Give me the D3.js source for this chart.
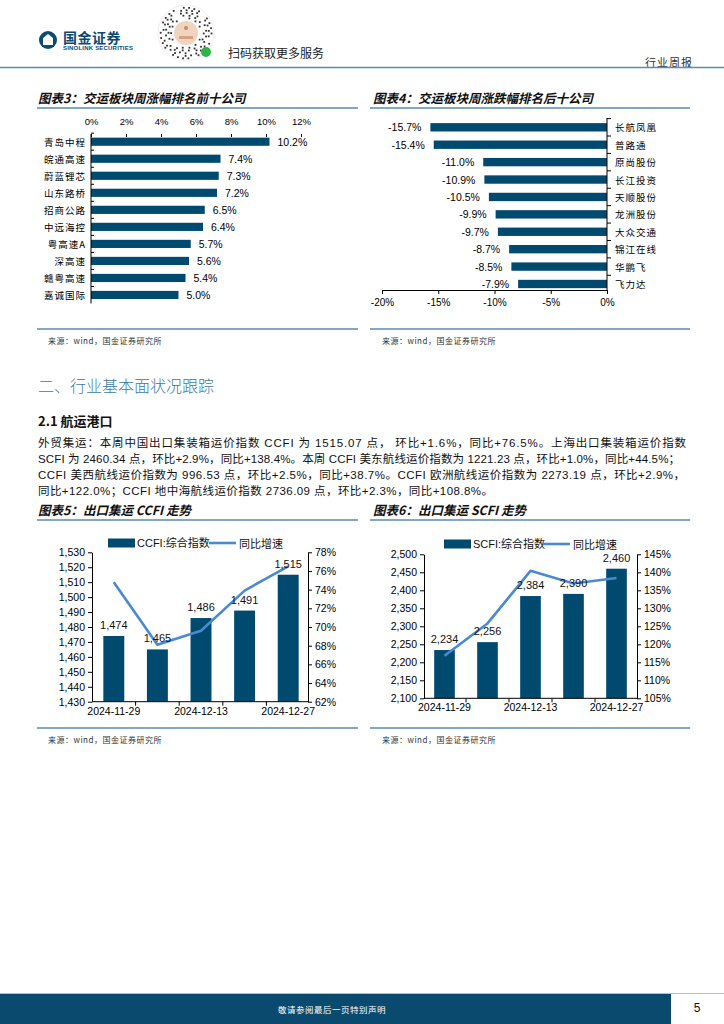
<!DOCTYPE html>
<html><head><meta charset="utf-8">
<script src="https://cdn.jsdelivr.net/npm/d3@7"></script>
<style>
html,body{margin:0;padding:0;background:#fff;}
svg{display:block;}
</style></head>
<body>
<svg id="page" width="724" height="1024"></svg>
<script>
// ---------------- DATA ----------------
const top10Names = ["青岛中程","皖通高速","蔚蓝锂芯","山东路桥","招商公路","中远海控","粤高速A","深高速","赣粤高速","嘉诚国际"];
const top10Values = [10.2,7.4,7.3,7.2,6.5,6.4,5.7,5.6,5.4,5.0];
const top10Ticks = [0,2,4,6,8,10,12];

const bottom10Names = ["长航凤凰","普路通","原尚股份","长江投资","天顺股份","龙洲股份","大众交通","锦江在线","华鹏飞","飞力达"];
const bottom10Values = [-15.7,-15.4,-11.0,-10.9,-10.5,-9.9,-9.7,-8.7,-8.5,-7.9];
const bottom10Ticks = [-20,-15,-10,-5,0];

const weeks = ["2024-11-29","2024-12-06","2024-12-13","2024-12-20","2024-12-27"];
const weekLabels = ["2024-11-29","2024-12-13","2024-12-27"];
const ccfiIndex = [1474,1465,1486,1491,1515];
const ccfiYoy = [74.8,68.1,69.6,73.9,76.5];
const ccfiLeftTicks = [1430,1440,1450,1460,1470,1480,1490,1500,1510,1520,1530];
const ccfiRightTicks = [62,64,66,68,70,72,74,76,78];

const scfiIndex = [2234,2256,2384,2390,2460];
const scfiYoy = [116.8,125.8,140.4,136.9,138.4];
const scfiLeftTicks = [2100,2150,2200,2250,2300,2350,2400,2450,2500];
const scfiRightTicks = [105,110,115,120,125,130,135,140,145];

const paraLines = [
  "外贸集运：本周中国出口集装箱运价指数 CCFI 为 1515.07 点， 环比+1.6%，同比+76.5%。上海出口集装箱运价指数",
  "SCFI 为 2460.34 点，环比+2.9%，同比+138.4%。本周 CCFI 美东航线运价指数为 1221.23 点，环比+1.0%，同比+44.5%；",
  "CCFI 美西航线运价指数为 996.53 点，环比+2.5%，同比+38.7%。CCFI 欧洲航线运价指数为 2273.19 点，环比+2.9%，",
  "同比+122.0%；CCFI 地中海航线运价指数 2736.09 点，环比+2.3%，同比+108.8%。"
];

// ---------------- STYLE ----------------
const NAVY = "#004a6f";
const LINEBLUE = "#4a8ad0";
const RULE = "#5a8bb0";
const FONT = "'Liberation Sans','Noto Sans CJK SC',sans-serif";
const CJK = "'Noto Sans CJK SC','Liberation Sans',sans-serif";

const svg = d3.select("#page");
svg.append("rect").attr("width",724).attr("height",1024).attr("fill","#fff");

function txt(g, x, y, s, opts={}) {
  const t = g.append("text").attr("x",x).attr("y",y).text(s)
    .attr("font-family", opts.family || FONT)
    .attr("font-size", opts.size || 10)
    .attr("fill", opts.fill || "#000")
    .attr("text-anchor", opts.anchor || "start")
    .attr("dominant-baseline", "central");
  if (opts.weight) t.attr("font-weight", opts.weight);
  if (opts.style) t.attr("font-style", opts.style);
  if (opts.ls) t.attr("letter-spacing", opts.ls);
  if (opts.len) t.attr("textLength", opts.len).attr("lengthAdjust","spacing");
  return t;
}
function hline(x1,x2,y,color,w){ svg.append("line").attr("x1",x1).attr("x2",x2).attr("y1",y).attr("y2",y).attr("stroke",color).attr("stroke-width",w); }

// ---------------- HEADER ----------------
const hdr = svg.append("g");
// logo
hdr.append("circle").attr("cx",48).attr("cy",40).attr("r",9).attr("fill","#0d4a73");
hdr.append("path").attr("d","M43,45 L43,38 L48,34 L53,38 L53,45 Z").attr("fill","#fff");
txt(hdr,63,37,"国金证券",{size:14,weight:"bold",fill:"#0d4a73",family:CJK,ls:0.5});
txt(hdr,63,48,"SINOLINK SECURITIES",{size:6,weight:"bold",fill:"#0d4a73",ls:0.2});
// QR-like badge (decorative)
const qr = hdr.append("g");
qr.append("circle").attr("cx",186).attr("cy",33).attr("r",28).attr("fill","#fff").attr("stroke","#ddd").attr("stroke-width",0.5);
for (let ring=0; ring<5; ring++){
  const r = 15 + ring*2.6;
  const n = 14 + ring*4;
  for (let k=0;k<n;k++){
    if ((k*7 + ring*3) % 5 === 0) continue;
    const a = (k/n)*2*Math.PI + ring*0.37;
    qr.append("rect").attr("x",186+r*Math.cos(a)-0.8).attr("y",33+r*Math.sin(a)-0.8)
      .attr("width",1.8).attr("height",1.8).attr("fill","#333");
  }
}
qr.append("circle").attr("cx",186).attr("cy",33).attr("r",12).attr("fill","#efd5bf");
qr.append("rect").attr("x",179).attr("y",36).attr("width",14).attr("height",3).attr("fill","#d8a27e");
qr.append("circle").attr("cx",186).attr("cy",28).attr("r",2).attr("fill","#c98a60");
qr.append("circle").attr("cx",206).attr("cy",52).attr("r",5).attr("fill","#2db34a");
txt(hdr,228,52,"扫码获取更多服务",{size:12,family:CJK,fill:"#222"});
txt(hdr,645,62,"行业周报",{size:11,family:CJK,fill:"#333",ls:1});
hline(0,724,67.5,RULE,1.6);

// ---------------- TITLES ----------------
function chartTitle(x, y, s, lx1, lx2){
  txt(svg,x,y,s,{size:12.5,weight:"bold",style:"italic",family:CJK,fill:"#111"});
  hline(lx1,lx2,y+11,RULE,1.3);
}
function source(x,y,lx1,lx2){
  hline(lx1,lx2,y-11,RULE,1.3);
  txt(svg,x,y,"来源：wind，国金证券研究所",{size:8,family:CJK,fill:"#333",ls:0.5});
}

// ---------------- CHART 3 ----------------
chartTitle(38,97,"图表3：交运板块周涨幅排名前十公司",37,358);
{
  const g = svg.append("g");
  const x = d3.scaleLinear().domain([0,12]).range([91,301]);
  const y = d3.scaleBand().domain(top10Names).range([133.2,303.5]).paddingInner(0.52).paddingOuter(0.26);
  const ax = g.append("g").attr("transform","translate(0,134)")
    .call(d3.axisTop(x).tickValues(top10Ticks).tickFormat(d=>d+"%").tickSizeInner(-3).tickSizeOuter(0).tickPadding(9));
  ax.select(".domain").remove();
  ax.selectAll("line").attr("stroke","#000");
  ax.selectAll("text").attr("font-family",FONT).attr("font-size",9.5).attr("fill","#000");
  g.selectAll(".bar").data(top10Values).join("rect")
    .attr("x",x(0)).attr("y",(d,i)=>y(top10Names[i]))
    .attr("width",d=>x(d)-x(0)).attr("height",y.bandwidth()).attr("fill",NAVY);
  g.append("line").attr("x1",91).attr("x2",91).attr("y1",134).attr("y2",303.5).attr("stroke","#000");
  const step = y.step();
  top10Names.forEach((n,i)=>{
    const yy = y(n) - y.paddingInner()*step/2;
    g.append("line").attr("x1",91).attr("x2",94).attr("y1",yy).attr("y2",yy).attr("stroke","#000");
  });
  g.selectAll(".lab").data(top10Names).join("text")
    .attr("x",86).attr("y",d=>y(d)+y.bandwidth()/2).text(d=>d)
    .attr("text-anchor","end").attr("dominant-baseline","central")
    .attr("font-family",CJK).attr("font-size",9.5).attr("letter-spacing",1);
  g.selectAll(".val").data(top10Values).join("text")
    .attr("x",d=>x(d)+8).attr("y",(d,i)=>y(top10Names[i])+y.bandwidth()/2).text(d=>d.toFixed(1)+"%")
    .attr("dominant-baseline","central").attr("font-family",FONT).attr("font-size",10.5);
}
source(48,340,37,358);

// ---------------- CHART 4 ----------------
chartTitle(373,97,"图表4：交运板块周涨跌幅排名后十公司",370,690);
{
  const g = svg.append("g");
  const x = d3.scaleLinear().domain([-20,0]).range([382,607]);
  const y = d3.scaleBand().domain(bottom10Names).range([118.6,292.7]).paddingInner(0.52).paddingOuter(0.26);
  g.selectAll(".bar").data(bottom10Values).join("rect")
    .attr("x",d=>x(d)).attr("y",(d,i)=>y(bottom10Names[i]))
    .attr("width",d=>x(0)-x(d)).attr("height",y.bandwidth()).attr("fill",NAVY);
  const ax = g.append("g").attr("transform","translate(0,290)")
    .call(d3.axisBottom(x).tickValues(bottom10Ticks).tickFormat(d=>d+"%").tickSizeInner(4).tickSizeOuter(0).tickPadding(5));
  ax.select(".domain").attr("stroke","#000");
  ax.selectAll("text").attr("font-family",FONT).attr("font-size",10).attr("fill","#000");
  g.append("line").attr("x1",607).attr("x2",607).attr("y1",118).attr("y2",290).attr("stroke","#000");
  const step = y.step();
  bottom10Names.forEach((n,i)=>{
    const yy = y(n) - y.paddingInner()*step/2;
    g.append("line").attr("x1",607).attr("x2",611).attr("y1",yy).attr("y2",yy).attr("stroke","#000");
  });
  g.selectAll(".lab").data(bottom10Names).join("text")
    .attr("x",615).attr("y",d=>y(d)+y.bandwidth()/2).text(d=>d)
    .attr("dominant-baseline","central")
    .attr("font-family",CJK).attr("font-size",9.5).attr("letter-spacing",1);
  g.selectAll(".val").data(bottom10Values).join("text")
    .attr("x",d=>x(d)-9).attr("y",(d,i)=>y(bottom10Names[i])+y.bandwidth()/2).text(d=>d.toFixed(1)+"%")
    .attr("text-anchor","end").attr("dominant-baseline","central").attr("font-family",FONT).attr("font-size",10.5);
}
source(382,340,370,690);

// ---------------- SECTION TEXT ----------------
txt(svg,38,385,"二、行业基本面状况跟踪",{size:16,family:CJK,fill:"#3d7aa6",weight:300});
txt(svg,38,420,"2.1 航运港口",{size:13,family:CJK,weight:"bold",fill:"#111"});
const paraLens = [648,642,647,455];
paraLines.forEach((s,i)=>{
  txt(svg,38,443+i*16,s,{size:11.5,family:FONT,fill:"#111",len:paraLens[i]});
});

// ---------------- COMBO CHART ----------------
function combo(cfg){
  const g = svg.append("g");
  const x = d3.scaleBand().domain(weeks).range([cfg.bx0,cfg.bx1]).paddingInner(0.52).paddingOuter(0.26);
  const yl = d3.scaleLinear().domain(cfg.lDom).range([cfg.yb,cfg.yt]);
  const yr = d3.scaleLinear().domain(cfg.rDom).range([cfg.yb,cfg.yt]);
  // bars
  g.selectAll(".bar").data(cfg.values).join("rect")
    .attr("x",(d,i)=>x(weeks[i])).attr("y",d=>yl(d))
    .attr("width",x.bandwidth()).attr("height",d=>cfg.yb-yl(d)).attr("fill",NAVY);
  // left axis
  const la = g.append("g").attr("transform",`translate(${cfg.lx},0)`)
    .call(d3.axisLeft(yl).tickValues(cfg.lTicks).tickFormat(d3.format(",")).tickSizeInner(4).tickSizeOuter(0).tickPadding(3));
  la.select(".domain").attr("stroke","#000");
  la.selectAll("text").attr("font-family",FONT).attr("font-size",10.5).attr("fill","#000");
  // right axis
  const ra = g.append("g").attr("transform",`translate(${cfg.rx},0)`)
    .call(d3.axisRight(yr).tickValues(cfg.rTicks).tickFormat(d=>d+"%").tickSizeInner(4).tickSizeOuter(0).tickPadding(3));
  ra.select(".domain").attr("stroke","#000");
  ra.selectAll("text").attr("font-family",FONT).attr("font-size",10.5).attr("fill","#000");
  // bottom axis
  g.append("line").attr("x1",cfg.lx).attr("x2",cfg.rx).attr("y1",cfg.yb).attr("y2",cfg.yb).attr("stroke","#000");
  const step = x.step();
  weeks.forEach((w,i)=>{
    if (i===0) return;
    const xx = x(w) - x.paddingInner()*step/2;
    g.append("line").attr("x1",xx).attr("x2",xx).attr("y1",cfg.yb).attr("y2",cfg.yb+4).attr("stroke","#000");
  });
  g.selectAll(".xl").data(weekLabels).join("text")
    .attr("x",d=>x(d)+x.bandwidth()/2).attr("y",cfg.yb+9).text(d=>d)
    .attr("text-anchor","middle").attr("dominant-baseline","central")
    .attr("font-family",FONT).attr("font-size",10.5).attr("fill","#000");
  // line
  const line = d3.line().x((d,i)=>x(weeks[i])+x.bandwidth()/2).y(d=>yr(d));
  g.append("path").datum(cfg.yoy).attr("d",line).attr("fill","none")
    .attr("stroke",LINEBLUE).attr("stroke-width",2.6).attr("stroke-linejoin","round");
  // bar labels
  g.selectAll(".bl").data(cfg.values).join("text")
    .attr("x",(d,i)=>x(weeks[i])+x.bandwidth()/2).attr("y",d=>yl(d)-11).text(d=>d3.format(",")(d))
    .attr("text-anchor","middle").attr("dominant-baseline","central")
    .attr("font-family",FONT).attr("font-size",11).attr("fill","#111");
  // legend
  g.append("rect").attr("x",cfg.legX).attr("y",cfg.legY-4.5).attr("width",27).attr("height",9).attr("fill",NAVY);
  txt(g,cfg.legX+29,cfg.legY,cfg.legName,{size:11,family:FONT,fill:"#111"});
  g.append("line").attr("x1",cfg.legLX).attr("x2",cfg.legLX+27).attr("y1",cfg.legY).attr("y2",cfg.legY)
    .attr("stroke",LINEBLUE).attr("stroke-width",2.6);
  txt(g,cfg.legLX+30,cfg.legY,"同比增速",{size:11,family:CJK,fill:"#111"});
}

chartTitle(38,509,"图表5：出口集运 CCFI 走势",37,358);
combo({bx0:92,bx1:310,lx:92,rx:308,yt:552.3,yb:701.7,
  lDom:[1430,1530],rDom:[62,78],lTicks:ccfiLeftTicks,rTicks:ccfiRightTicks,
  values:ccfiIndex,yoy:ccfiYoy,legX:108,legY:543,legName:"CCFI:综合指数",legLX:209});
source(48,739,37,358);

chartTitle(373,509,"图表6：出口集运 SCFI 走势",370,690);
combo({bx0:423,bx1:638,lx:424,rx:637,yt:554.3,yb:698.3,
  lDom:[2100,2500],rDom:[105,145],lTicks:scfiLeftTicks,rTicks:scfiRightTicks,
  values:scfiIndex,yoy:scfiYoy,legX:444,legY:544,legName:"SCFI:综合指数",legLX:543});
source(382,739,370,690);

// ---------------- FOOTER ----------------
hline(0,724,993.5,"#a9c4da",1.2);
svg.append("rect").attr("x",0).attr("y",994).attr("width",671).attr("height",30).attr("fill","#0a4a6e");
txt(svg,332,1009,"敬请参阅最后一页特别声明",{size:8.5,family:CJK,fill:"#fff",anchor:"middle",ls:0.5});
txt(svg,697,1008,"5",{size:12,family:FONT,fill:"#111",anchor:"middle"});
</script>
</body></html>
